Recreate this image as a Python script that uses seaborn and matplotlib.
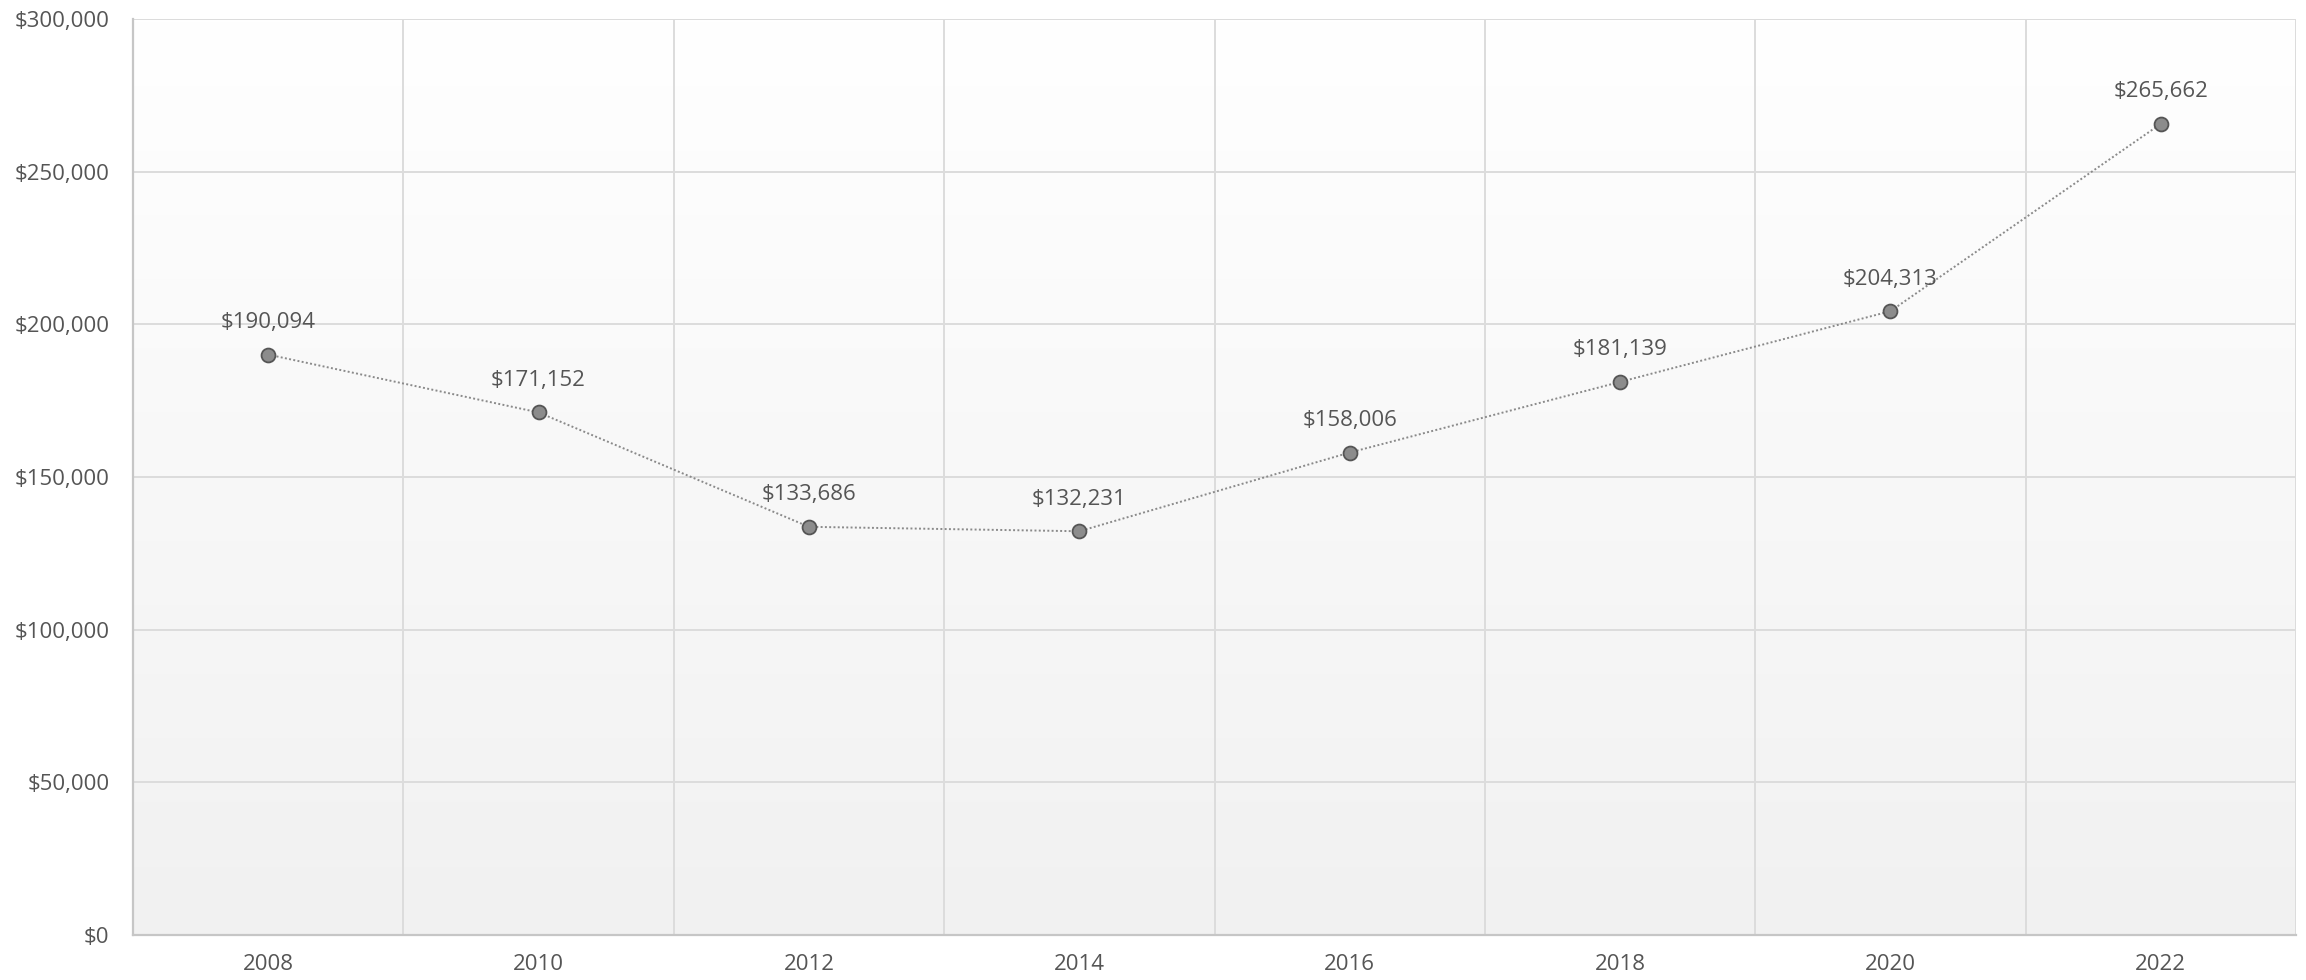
import numpy as np
import pandas as pd
import matplotlib.pyplot as plt
import seaborn as sns
from matplotlib.ticker import FuncFormatter

# values
years = [2008, 2010, 2012, 2014, 2016, 2018, 2020, 2022]
values = [190094, 171152, 133686, 132231, 158006, 181139, 204313, 265662]
y_ticks = [0, 50000, 100000, 150000, 200000, 250000, 300000]

TEXT = "#555555"
GRID = "#dcdcdc"

sns.set_theme(style="white")
plt.rcParams["font.family"] = ["Open Sans", "DejaVu Sans"]

df = pd.DataFrame({"year": years, "value": values})

fig = plt.figure(figsize=(23.06, 9.8), dpi=100)
ax = fig.add_axes([133 / 2306, 1 - 935 / 980, (2296 - 133) / 2306, (935 - 19) / 980])

# soft vertical gradient behind the plot: light grey at the bottom, white on top
grad = np.linspace(0.0, 1.0, 256).reshape(-1, 1)
ax.imshow(grad, extent=[2007, 2023, 0, 300000], aspect="auto",
          cmap=sns.blend_palette(["#f1f1f1", "#ffffff"], as_cmap=True),
          origin="lower", zorder=0)

sns.lineplot(data=df, x="year", y="value", ax=ax, color="#8a8a8a",
             linestyle=(0, (1, 1.2)), linewidth=1.4, marker="o",
             markersize=10, markerfacecolor="#8c8c8c",
             markeredgecolor="#555555", markeredgewidth=1.3, zorder=3)

for x, v in zip(years, values):
    ax.annotate(f"${v:,}", (x, v), xytext=(0, 23), textcoords="offset points",
                ha="center", va="center", fontsize=16, color=TEXT, zorder=4)

ax.set_xlim(2007, 2023)
ax.set_ylim(0, 300000)
ax.set_xticks(years)
ax.set_xticks([y - 1 for y in years] + [2023], minor=True)
ax.set_yticks(y_ticks)
ax.yaxis.set_major_formatter(FuncFormatter(lambda v, p: f"${int(v):,}"))

ax.grid(False)
ax.grid(which="minor", axis="x", color=GRID, linewidth=1.4, zorder=1)
ax.grid(which="major", axis="y", color=GRID, linewidth=1.4, zorder=1)
ax.set_axisbelow(True)

ax.tick_params(axis="both", which="both", length=0, labelsize=16, colors=TEXT)
ax.tick_params(axis="x", pad=14)
ax.tick_params(axis="y", pad=17)
ax.set_xlabel("")
ax.set_ylabel("")

for side in ["top", "right"]:
    ax.spines[side].set_visible(False)
for side in ["left", "bottom"]:
    ax.spines[side].set_color("#c6c6c6")
    ax.spines[side].set_linewidth(1.6)

fig.savefig("out.png", dpi=100)
